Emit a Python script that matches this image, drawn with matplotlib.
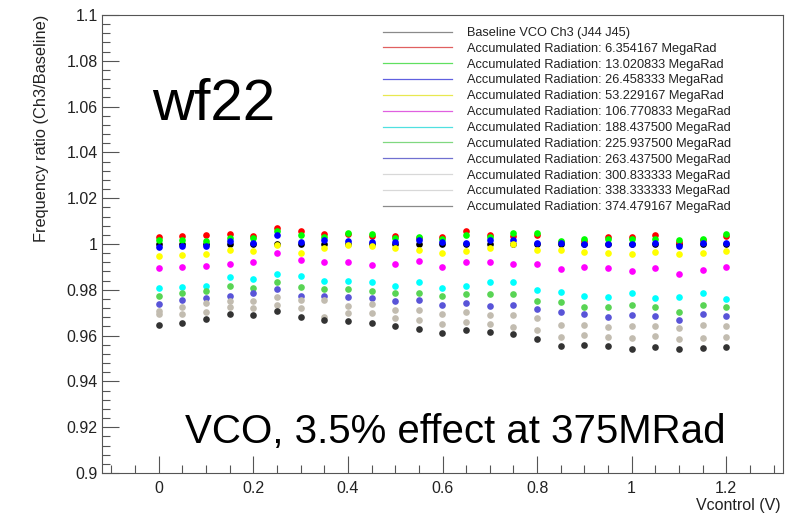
import matplotlib
matplotlib.use('Agg')
import matplotlib.pyplot as plt
from matplotlib.lines import Line2D
from matplotlib.ticker import MultipleLocator, FuncFormatter

# Vcontrol points (V)
vcontrol = [0.0, 0.05, 0.1, 0.15, 0.2, 0.25, 0.3, 0.35, 0.4, 0.45, 0.5, 0.55, 0.6,
            0.65, 0.7, 0.75, 0.8, 0.85, 0.9, 0.95, 1.0, 1.05, 1.1, 1.15, 1.2]

# frequency ratio Ch3/Baseline per accumulated dose
baseline = [1.0] * 25
rad_6 = [1.0032, 1.0033, 1.0038, 1.0044, 1.0036, 1.0070, 1.0057, 1.0042, 1.0044, 1.0036, 1.0036, 1.0028, 1.0031,
         1.0058, 1.0041, 1.0036, 1.0039, 1.0010, 1.0013, 1.0032, 1.0031, 1.0039, 1.0010, 1.0016, 1.0036]
rad_13 = [1.0017, 1.0017, 1.0013, 1.0025, 1.0025, 1.0057, 1.0039, 1.0032, 1.0047, 1.0044, 1.0028, 1.0031, 1.0022,
          1.0038, 1.0032, 1.0048, 1.0048, 1.0012, 1.0020, 1.0023, 1.0020, 1.0020, 1.0016, 1.0020, 1.0044]
rad_26 = [0.9988, 0.9991, 0.9990, 1.0013, 1.0006, 1.0039, 1.0007, 1.0016, 1.0012, 1.0010, 1.0010, 1.0017, 1.0009,
          1.0006, 1.0017, 1.0017, 1.0003, 1.0003, 1.0000, 1.0001, 1.0001, 1.0003, 0.9993, 1.0003, 1.0006]
rad_53 = [0.9948, 0.9953, 0.9958, 0.9974, 0.9971, 0.9994, 0.9962, 0.9984, 0.9994, 0.9991, 0.9984, 0.9974, 0.9959,
          0.9969, 0.9981, 0.9999, 0.9974, 0.9975, 0.9967, 0.9959, 0.9955, 0.9967, 0.9955, 0.9962, 0.9971]
rad_107 = [0.9894, 0.9898, 0.9905, 0.9913, 0.9923, 0.9961, 0.9930, 0.9923, 0.9923, 0.9910, 0.9913, 0.9927, 0.9901,
           0.9923, 0.9920, 0.9913, 0.9913, 0.9892, 0.9901, 0.9895, 0.9884, 0.9897, 0.9868, 0.9886, 0.9898]
rad_188 = [0.9809, 0.9814, 0.9818, 0.9854, 0.9847, 0.9869, 0.9860, 0.9838, 0.9840, 0.9833, 0.9818, 0.9833, 0.9808,
           0.9818, 0.9833, 0.9833, 0.9799, 0.9790, 0.9773, 0.9767, 0.9787, 0.9763, 0.9767, 0.9785, 0.9761]
rad_226 = [0.9774, 0.9785, 0.9795, 0.9818, 0.9808, 0.9833, 0.9814, 0.9803, 0.9802, 0.9796, 0.9785, 0.9787, 0.9771,
           0.9780, 0.9782, 0.9783, 0.9751, 0.9747, 0.9726, 0.9723, 0.9734, 0.9723, 0.9704, 0.9735, 0.9726]
rad_263 = [0.9736, 0.9755, 0.9764, 0.9774, 0.9785, 0.9803, 0.9773, 0.9774, 0.9770, 0.9766, 0.9751, 0.9755, 0.9735,
           0.9744, 0.9731, 0.9734, 0.9715, 0.9704, 0.9693, 0.9683, 0.9688, 0.9687, 0.9668, 0.9693, 0.9686]
rad_301 = [0.9707, 0.9723, 0.9742, 0.9752, 0.9752, 0.9770, 0.9757, 0.9755, 0.9731, 0.9738, 0.9713, 0.9712, 0.9694,
           0.9704, 0.9690, 0.9690, 0.9675, 0.9646, 0.9645, 0.9639, 0.9642, 0.9642, 0.9632, 0.9646, 0.9643]
rad_338 = [0.9693, 0.9693, 0.9704, 0.9723, 0.9719, 0.9734, 0.9719, 0.9683, 0.9699, 0.9697, 0.9678, 0.9668, 0.9651,
           0.9661, 0.9651, 0.9636, 0.9624, 0.9595, 0.9603, 0.9595, 0.9591, 0.9597, 0.9587, 0.9588, 0.9592]
rad_374 = [0.9646, 0.9654, 0.9671, 0.9693, 0.9691, 0.9709, 0.9681, 0.9668, 0.9664, 0.9654, 0.9642, 0.9627, 0.9610,
           0.9623, 0.9614, 0.9607, 0.9585, 0.9555, 0.9560, 0.9556, 0.9543, 0.9552, 0.9540, 0.9546, 0.9550]

labels = ['Baseline VCO Ch3 (J44 J45)',
          'Accumulated Radiation: 6.354167 MegaRad',
          'Accumulated Radiation: 13.020833 MegaRad',
          'Accumulated Radiation: 26.458333 MegaRad',
          'Accumulated Radiation: 53.229167 MegaRad',
          'Accumulated Radiation: 106.770833 MegaRad',
          'Accumulated Radiation: 188.437500 MegaRad',
          'Accumulated Radiation: 225.937500 MegaRad',
          'Accumulated Radiation: 263.437500 MegaRad',
          'Accumulated Radiation: 300.833333 MegaRad',
          'Accumulated Radiation: 338.333333 MegaRad',
          'Accumulated Radiation: 374.479167 MegaRad']
series = [baseline, rad_6, rad_13, rad_26, rad_53, rad_107, rad_188,
          rad_226, rad_263, rad_301, rad_338, rad_374]
# ROOT-ish colours
colors = ['#000000', '#ff0000', '#00ff00', '#0000ff', '#ffff00', '#ff00ff', '#00ffff',
          '#59d454', '#5954d8', '#c2bcb0', '#c2bcb0', '#333333']
legend_colors = ['#8a8a8a', '#e06060', '#60e060', '#6060e0', '#e8e850', '#e060e0', '#50e0e0',
                 '#80d880', '#7070d0', '#d8d8d8', '#d8d8d8', '#8a8a8a']

plt.rcParams['font.family'] = ['Liberation Sans', 'DejaVu Sans']

fig = plt.figure(figsize=(7.87, 5.13), dpi=100)
ax = fig.add_axes([102 / 787, 1 - 473 / 513, 681 / 787, 458 / 513])

for ys, c in zip(series, colors):
    ax.plot(vcontrol, ys, linestyle='none', marker='o', markersize=4.8,
            color=c, markeredgewidth=0)

ax.set_xlim(-0.12, 1.32)
ax.set_ylim(0.9, 1.1)

ax.xaxis.set_major_locator(MultipleLocator(0.2))
ax.xaxis.set_minor_locator(MultipleLocator(0.05))
ax.yaxis.set_major_locator(MultipleLocator(0.02))
ax.yaxis.set_minor_locator(MultipleLocator(0.004))
fmt = FuncFormatter(lambda v, p: '%g' % round(v, 4))
ax.xaxis.set_major_formatter(fmt)
ax.yaxis.set_major_formatter(fmt)
ax.tick_params(which='both', direction='in', top=False, right=False,
               colors='#555555', labelcolor='#222222', labelsize=11.5, width=0.8)
ax.tick_params(which='major', length=12)
ax.tick_params(which='minor', length=6)
ax.tick_params(axis='x', pad=6)
ax.tick_params(axis='y', pad=3)
for s in ax.spines.values():
    s.set_color('#555555')
    s.set_linewidth(0.8)

ax.set_xlabel('Vcontrol (V)', fontsize=11.5, color='#222222', loc='right')
ax.xaxis.set_label_coords(0.996, -0.055)
ax.set_ylabel('Frequency ratio (Ch3/Baseline)', fontsize=11.8, color='#222222', loc='top', labelpad=13)

handles = [Line2D([], [], color=c, lw=0.9) for c in legend_colors]
ax.legend(handles, labels, loc='upper left', bbox_to_anchor=(383 / 787, 1 - 27 / 513),
          bbox_transform=fig.transFigure, frameon=False, fontsize=9.2, borderpad=0,
          borderaxespad=0, handlelength=5.4, handletextpad=1.15, labelspacing=0.3,
          labelcolor='#222222')

ax.text(152 / 787, 1 - 105 / 513, 'wf22', transform=fig.transFigure, fontsize=42,
        ha='left', va='center')
ax.text(185 / 787, 1 - 432 / 513, 'VCO, 3.5% effect at 375MRad', transform=fig.transFigure,
        fontsize=29, ha='left', va='center')

plt.savefig('out.png', dpi=100)
